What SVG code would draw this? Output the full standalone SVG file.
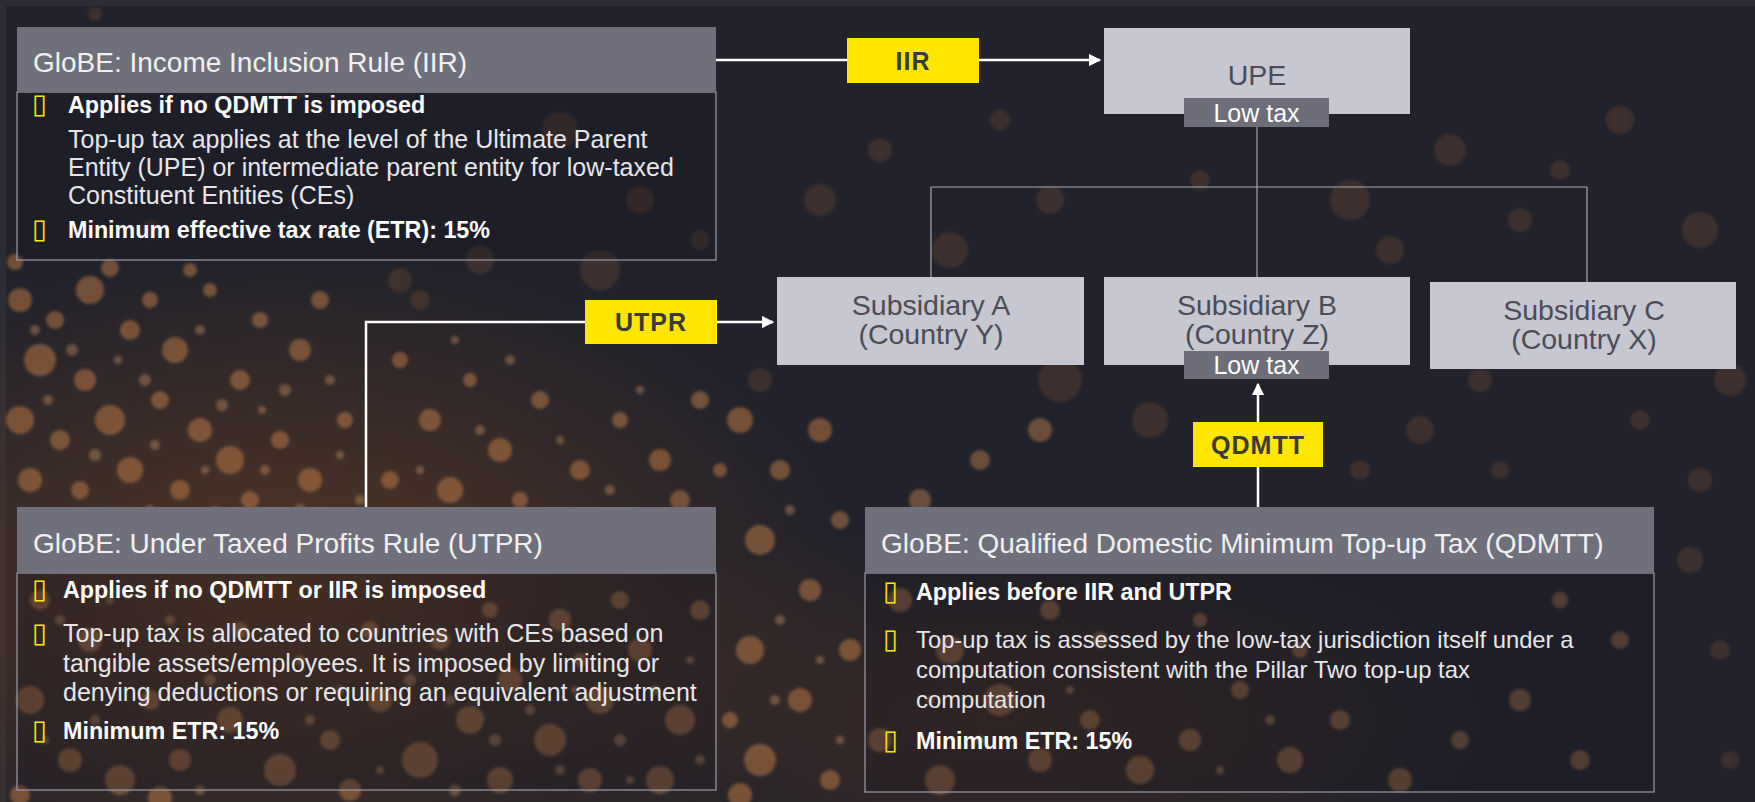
<svg xmlns="http://www.w3.org/2000/svg" width="1755" height="802" viewBox="0 0 1755 802">
  <defs>
    <style>
      .hdr { fill: #6f707b; }
      .body { fill: #16161f; fill-opacity: 0.28; stroke: #9c9ca8; stroke-width: 1.2; }
      .hdr-t { font-family: "Liberation Sans", Arial, sans-serif; font-size: 28px; fill: #f0f0f2; }
      .txt { font-family: "Liberation Sans", Arial, sans-serif; font-size: 25px; fill: #e6e6ea; }
      .txt-q { font-family: "Liberation Sans", Arial, sans-serif; font-size: 23.8px; fill: #e6e6ea; }
      .bold { font-family: "Liberation Sans", Arial, sans-serif; font-size: 23.3px; font-weight: bold; fill: #ffffff; }
      .bul { font-family: "DejaVu Sans", sans-serif; font-size: 27px; fill: #ffe600; }
      .node { fill: #c6c7d1; }
      .node-t { font-family: "Liberation Sans", Arial, sans-serif; font-size: 28.5px; fill: #4b4c57; text-anchor: middle; }
      .tag { fill: #6d6e79; }
      .tag-t { font-family: "Liberation Sans", Arial, sans-serif; font-size: 25px; fill: #ffffff; text-anchor: middle; }
      .ylw { fill: #ffe600; }
      .ylw-t { font-family: "Liberation Sans", Arial, sans-serif; font-size: 25px; font-weight: bold; letter-spacing: 1px; fill: #3a3a36; text-anchor: middle; }
      .arrow { fill: none; stroke: #ffffff; stroke-width: 2.5; }
      .tree { fill: none; stroke: #a6a6b2; stroke-width: 1.2; }
      .bk1 { fill: #c27b46; fill-opacity: 0.5; }
      .bk2 { fill: #a9693b; fill-opacity: 0.2; }
      .bk3 { fill: #d08a52; fill-opacity: 0.42; }
      .bk4 { fill: #e0a06a; fill-opacity: 0.35; }
    </style>
    <marker id="head" viewBox="0 0 10 10" refX="9" refY="5" markerWidth="5" markerHeight="5" orient="auto">
      <path d="M0,0 L10,5 L0,10 z" fill="#ffffff"/>
    </marker>
    <filter id="soft" x="-10%" y="-10%" width="120%" height="120%">
      <feGaussianBlur stdDeviation="1.6"/>
    </filter>
    <radialGradient id="glowL" cx="0.5" cy="0.5" r="0.5">
      <stop offset="0" stop-color="#6a3f22" stop-opacity="0.7"/>
      <stop offset="1" stop-color="#6a3f22" stop-opacity="0"/>
    </radialGradient>
    <radialGradient id="glowR" cx="0.5" cy="0.5" r="0.5">
      <stop offset="0" stop-color="#5a3520" stop-opacity="0.45"/>
      <stop offset="1" stop-color="#5a3520" stop-opacity="0"/>
    </radialGradient>
  </defs>

  <!-- backdrop and frame -->
  <rect x="0" y="0" width="1755" height="802" fill="#2b2c35"/>
  <rect x="6" y="6" width="1749" height="796" fill="#21222b"/>
  <ellipse cx="280" cy="590" rx="580" ry="340" fill="url(#glowL)"/>
  <ellipse cx="1000" cy="720" rx="520" ry="200" fill="url(#glowR)"/>

  <!-- bokeh particles -->
  <g id="bokeh" filter="url(#soft)">
    <g class="bk1">
      <circle cx="20" cy="300" r="12"/><circle cx="55" cy="320" r="9"/><circle cx="90" cy="290" r="14"/>
      <circle cx="130" cy="330" r="10"/><circle cx="40" cy="360" r="16"/><circle cx="85" cy="380" r="11"/>
      <circle cx="150" cy="300" r="8"/><circle cx="175" cy="350" r="13"/><circle cx="20" cy="420" r="14"/>
      <circle cx="60" cy="440" r="10"/><circle cx="110" cy="420" r="15"/><circle cx="160" cy="400" r="9"/>
      <circle cx="200" cy="430" r="12"/><circle cx="240" cy="380" r="10"/><circle cx="260" cy="320" r="8"/>
      <circle cx="300" cy="350" r="11"/><circle cx="320" cy="300" r="9"/><circle cx="30" cy="480" r="12"/>
      <circle cx="80" cy="490" r="9"/><circle cx="130" cy="470" r="13"/><circle cx="180" cy="490" r="10"/>
      <circle cx="230" cy="460" r="14"/><circle cx="280" cy="440" r="9"/><circle cx="310" cy="480" r="12"/>
      <circle cx="345" cy="420" r="8"/><circle cx="210" cy="290" r="7"/><circle cx="250" cy="500" r="9"/>
      <circle cx="15" cy="262" r="8"/><circle cx="110" cy="268" r="9"/><circle cx="190" cy="270" r="7"/>
      <circle cx="400" cy="360" r="8"/><circle cx="430" cy="420" r="11"/><circle cx="470" cy="380" r="7"/>
      <circle cx="500" cy="450" r="12"/><circle cx="540" cy="400" r="9"/><circle cx="580" cy="470" r="10"/>
      <circle cx="620" cy="420" r="8"/><circle cx="660" cy="460" r="11"/><circle cx="700" cy="400" r="9"/>
      <circle cx="390" cy="480" r="9"/><circle cx="450" cy="490" r="13"/><circle cx="520" cy="500" r="8"/>
      <circle cx="680" cy="500" r="10"/><circle cx="720" cy="470" r="7"/>
      <circle cx="740" cy="420" r="13"/><circle cx="780" cy="470" r="10"/><circle cx="820" cy="430" r="12"/>
      <circle cx="760" cy="540" r="15"/><circle cx="810" cy="590" r="11"/><circle cx="750" cy="650" r="14"/>
      <circle cx="800" cy="700" r="12"/><circle cx="760" cy="760" r="16"/><circle cx="830" cy="780" r="10"/>
      <circle cx="840" cy="520" r="9"/><circle cx="730" cy="720" r="8"/><circle cx="850" cy="650" r="11"/>
      <circle cx="740" cy="795" r="12"/><circle cx="20" cy="795" r="10"/><circle cx="160" cy="798" r="12"/>
    </g>
    <g class="bk4">
      <circle cx="35" cy="330" r="5"/><circle cx="72" cy="350" r="6"/><circle cx="118" cy="360" r="4"/>
      <circle cx="145" cy="380" r="6"/><circle cx="200" cy="330" r="5"/><circle cx="222" cy="405" r="6"/>
      <circle cx="262" cy="410" r="4"/><circle cx="285" cy="390" r="6"/><circle cx="330" cy="380" r="5"/>
      <circle cx="48" cy="400" r="5"/><circle cx="95" cy="455" r="6"/><circle cx="155" cy="445" r="5"/>
      <circle cx="205" cy="470" r="4"/><circle cx="265" cy="470" r="5"/><circle cx="340" cy="455" r="4"/>
      <circle cx="60" cy="520" r="6"/><circle cx="150" cy="510" r="5"/><circle cx="215" cy="510" r="4"/>
      <circle cx="300" cy="510" r="6"/><circle cx="360" cy="500" r="5"/><circle cx="420" cy="470" r="4"/>
      <circle cx="480" cy="430" r="5"/><circle cx="560" cy="440" r="4"/><circle cx="610" cy="490" r="5"/>
      <circle cx="640" cy="390" r="4"/><circle cx="455" cy="340" r="4"/><circle cx="510" cy="360" r="5"/>
      <circle cx="60" cy="620" r="5"/><circle cx="110" cy="600" r="4"/><circle cx="170" cy="620" r="5"/>
      <circle cx="210" cy="680" r="6"/><circle cx="260" cy="690" r="4"/><circle cx="300" cy="660" r="5"/>
      <circle cx="340" cy="690" r="4"/><circle cx="410" cy="680" r="6"/><circle cx="450" cy="700" r="5"/>
      <circle cx="495" cy="740" r="6"/><circle cx="530" cy="710" r="5"/><circle cx="575" cy="690" r="4"/>
      <circle cx="620" cy="740" r="6"/><circle cx="655" cy="690" r="5"/><circle cx="690" cy="660" r="4"/>
      <circle cx="700" cy="760" r="5"/><circle cx="630" cy="780" r="4"/><circle cx="560" cy="770" r="5"/>
      <circle cx="455" cy="790" r="6"/><circle cx="380" cy="770" r="4"/><circle cx="310" cy="720" r="5"/>
      <circle cx="95" cy="720" r="5"/><circle cx="45" cy="740" r="4"/><circle cx="200" cy="790" r="5"/>
      <circle cx="780" cy="620" r="5"/><circle cx="820" cy="660" r="4"/><circle cx="775" cy="700" r="5"/>
      <circle cx="840" cy="740" r="4"/><circle cx="790" cy="510" r="5"/>
      <circle cx="930" cy="700" r="4"/><circle cx="980" cy="740" r="5"/><circle cx="1070" cy="690" r="4"/>
      <circle cx="1120" cy="740" r="5"/><circle cx="1220" cy="770" r="4"/><circle cx="1270" cy="720" r="5"/>
    </g>
    <g class="bk3">
      <circle cx="40" cy="600" r="10"/><circle cx="90" cy="640" r="12"/><circle cx="30" cy="700" r="14"/>
      <circle cx="70" cy="760" r="12"/><circle cx="120" cy="780" r="15"/><circle cx="180" cy="760" r="11"/>
      <circle cx="230" cy="720" r="13"/><circle cx="280" cy="770" r="16"/><circle cx="330" cy="740" r="10"/>
      <circle cx="380" cy="700" r="12"/><circle cx="420" cy="760" r="18"/><circle cx="470" cy="720" r="14"/>
      <circle cx="510" cy="680" r="12"/><circle cx="550" cy="740" r="16"/><circle cx="600" cy="700" r="14"/>
      <circle cx="640" cy="650" r="12"/><circle cx="680" cy="720" r="15"/><circle cx="700" cy="610" r="10"/>
      <circle cx="620" cy="600" r="9"/><circle cx="560" cy="620" r="11"/><circle cx="490" cy="610" r="8"/>
      <circle cx="440" cy="640" r="10"/><circle cx="370" cy="630" r="9"/><circle cx="660" cy="780" r="14"/>
      <circle cx="590" cy="780" r="12"/><circle cx="500" cy="780" r="13"/><circle cx="350" cy="790" r="11"/>
      <circle cx="240" cy="630" r="8"/><circle cx="150" cy="700" r="10"/><circle cx="580" cy="660" r="7"/>
      <circle cx="650" cy="560" r="8"/><circle cx="540" cy="560" r="6"/><circle cx="450" cy="540" r="7"/>
      <circle cx="900" cy="600" r="12"/><circle cx="950" cy="650" r="14"/><circle cx="1000" cy="700" r="16"/>
      <circle cx="880" cy="740" r="12"/><circle cx="940" cy="780" r="15"/><circle cx="1040" cy="760" r="12"/>
      <circle cx="1090" cy="720" r="10"/><circle cx="1140" cy="770" r="14"/><circle cx="1190" cy="740" r="11"/>
      <circle cx="1240" cy="690" r="9"/><circle cx="1290" cy="760" r="13"/><circle cx="1340" cy="720" r="10"/>
      <circle cx="1400" cy="780" r="12"/><circle cx="1460" cy="740" r="9"/><circle cx="1520" cy="700" r="11"/>
      <circle cx="1580" cy="760" r="10"/><circle cx="1620" cy="640" r="9"/><circle cx="1560" cy="600" r="8"/>
      <circle cx="1100" cy="640" r="8"/><circle cx="1050" cy="610" r="10"/><circle cx="1200" cy="620" r="7"/>
      <circle cx="1300" cy="650" r="8"/><circle cx="1000" cy="560" r="9"/><circle cx="920" cy="500" r="11"/>
      <circle cx="980" cy="460" r="10"/><circle cx="1040" cy="430" r="12"/>
    </g>
    <g class="bk2">
      <circle cx="1360" cy="470" r="10"/><circle cx="1420" cy="430" r="14"/><circle cx="1500" cy="470" r="9"/>
      <circle cx="1690" cy="560" r="13"/><circle cx="1720" cy="650" r="10"/><circle cx="1700" cy="480" r="12"/>
      <circle cx="1730" cy="760" r="9"/>
      <circle cx="560" cy="130" r="18"/><circle cx="640" cy="200" r="14"/><circle cx="600" cy="270" r="20"/>
      <circle cx="820" cy="200" r="16"/><circle cx="880" cy="150" r="12"/><circle cx="950" cy="250" r="18"/>
      <circle cx="1000" cy="120" r="10"/><circle cx="1050" cy="200" r="14"/><circle cx="1060" cy="380" r="22"/>
      <circle cx="1150" cy="420" r="18"/><circle cx="1240" cy="450" r="16"/><circle cx="1350" cy="200" r="20"/>
      <circle cx="1390" cy="250" r="14"/><circle cx="1450" cy="150" r="16"/><circle cx="1520" cy="220" r="12"/>
      <circle cx="1620" cy="120" r="14"/><circle cx="1700" cy="230" r="18"/><circle cx="1730" cy="380" r="16"/>
      <circle cx="1640" cy="420" r="10"/><circle cx="1480" cy="380" r="12"/><circle cx="1000" cy="300" r="10"/>
      <circle cx="860" cy="330" r="18"/><circle cx="760" cy="380" r="12"/><circle cx="1200" cy="180" r="10"/>
      <circle cx="1560" cy="170" r="10"/><circle cx="480" cy="260" r="14"/><circle cx="420" cy="300" r="10"/>
      <circle cx="300" cy="90" r="8"/><circle cx="400" cy="280" r="12"/><circle cx="700" cy="240" r="10"/>
      <circle cx="150" cy="230" r="10"/><circle cx="95" cy="14" r="7"/>
    </g>
  </g>

  <!-- organisation tree lines and rule arrows -->
  <g id="connectors">
    <path class="tree" d="M1257,127 V277 M931,187 H1587 M931,187 V277 M1587,187 V282"/>
    <path class="arrow" d="M716,60 H1100" marker-end="url(#head)"/>
    <path class="arrow" d="M366,507 V322 H773" marker-end="url(#head)"/>
    <path class="arrow" d="M1258,507 V384" marker-end="url(#head)"/>
  </g>

  <!-- rule labels on the arrows -->
  <g id="label-iir">
    <rect class="ylw" x="847" y="38" width="132" height="45"/>
    <text class="ylw-t" x="913" y="69.5">IIR</text>
  </g>
  <g id="label-utpr">
    <rect class="ylw" x="585" y="300" width="132" height="44"/>
    <text class="ylw-t" x="651" y="331">UTPR</text>
  </g>
  <g id="label-qdmtt">
    <rect class="ylw" x="1193" y="422" width="130" height="45"/>
    <text class="ylw-t" x="1258" y="453.5">QDMTT</text>
  </g>

  <!-- entities -->
  <g id="upe">
    <rect class="node" x="1104" y="28" width="306" height="86"/>
    <text class="node-t" x="1257" y="85">UPE</text>
    <rect class="tag" x="1184" y="98" width="145" height="29"/>
    <text class="tag-t" x="1256.5" y="121.5">Low tax</text>
  </g>
  <g id="sub-a">
    <rect class="node" x="777" y="277" width="307" height="88"/>
    <text class="node-t" x="931" y="315">Subsidiary A</text>
    <text class="node-t" x="931" y="344">(Country Y)</text>
  </g>
  <g id="sub-b">
    <rect class="node" x="1104" y="277" width="306" height="88"/>
    <text class="node-t" x="1257" y="315">Subsidiary B</text>
    <text class="node-t" x="1257" y="344">(Country Z)</text>
    <rect class="tag" x="1184" y="351" width="145" height="28"/>
    <text class="tag-t" x="1256.5" y="374">Low tax</text>
  </g>
  <g id="sub-c">
    <rect class="node" x="1430" y="282" width="306" height="87"/>
    <text class="node-t" x="1584" y="320">Subsidiary C</text>
    <text class="node-t" x="1584" y="349">(Country X)</text>
  </g>

  <!-- rule descriptions -->
  <g id="box-iir">
    <rect class="body" x="17" y="92" width="699" height="168"/>
    <rect class="hdr" x="17" y="27" width="699" height="65"/>
    <text class="hdr-t" x="33" y="72">GloBE: Income Inclusion Rule (IIR)</text>
    <text class="bul" x="32" y="113">▯</text>
    <text class="bold" x="68" y="113">Applies if no QDMTT is imposed</text>
    <text class="txt" x="68" y="148">Top-up tax applies at the level of the Ultimate Parent</text>
    <text class="txt" x="68" y="176">Entity (UPE) or intermediate parent entity for low-taxed</text>
    <text class="txt" x="68" y="204">Constituent Entities (CEs)</text>
    <text class="bul" x="32" y="238">▯</text>
    <text class="bold" x="68" y="238">Minimum effective tax rate (ETR): 15%</text>
  </g>

  <g id="box-utpr">
    <rect class="body" x="17" y="573" width="699" height="217"/>
    <rect class="hdr" x="17" y="507" width="699" height="66"/>
    <text class="hdr-t" x="33" y="553">GloBE: Under Taxed Profits Rule (UTPR)</text>
    <text class="bul" x="32" y="598">▯</text>
    <text class="bold" x="63" y="598">Applies if no QDMTT or IIR is imposed</text>
    <text class="bul" x="32" y="642">▯</text>
    <text class="txt" x="63" y="642">Top-up tax is allocated to countries with CEs based on</text>
    <text class="txt" x="63" y="672">tangible assets/employees. It is imposed by limiting or</text>
    <text class="txt" x="63" y="701">denying deductions or requiring an equivalent adjustment</text>
    <text class="bul" x="32" y="739">▯</text>
    <text class="bold" x="63" y="739">Minimum ETR: 15%</text>
  </g>

  <g id="box-qdmtt">
    <rect class="body" x="865" y="573" width="789" height="219"/>
    <rect class="hdr" x="865" y="507" width="789" height="66"/>
    <text class="hdr-t" x="881" y="553">GloBE: Qualified Domestic Minimum Top-up Tax (QDMTT)</text>
    <text class="bul" x="883" y="600">▯</text>
    <text class="bold" x="916" y="600">Applies before IIR and UTPR</text>
    <text class="bul" x="883" y="648">▯</text>
    <text class="txt-q" x="916" y="648">Top-up tax is assessed by the low-tax jurisdiction itself under a</text>
    <text class="txt-q" x="916" y="678">computation consistent with the Pillar Two top-up tax</text>
    <text class="txt-q" x="916" y="708">computation</text>
    <text class="bul" x="883" y="749">▯</text>
    <text class="bold" x="916" y="749">Minimum ETR: 15%</text>
  </g>
</svg>
